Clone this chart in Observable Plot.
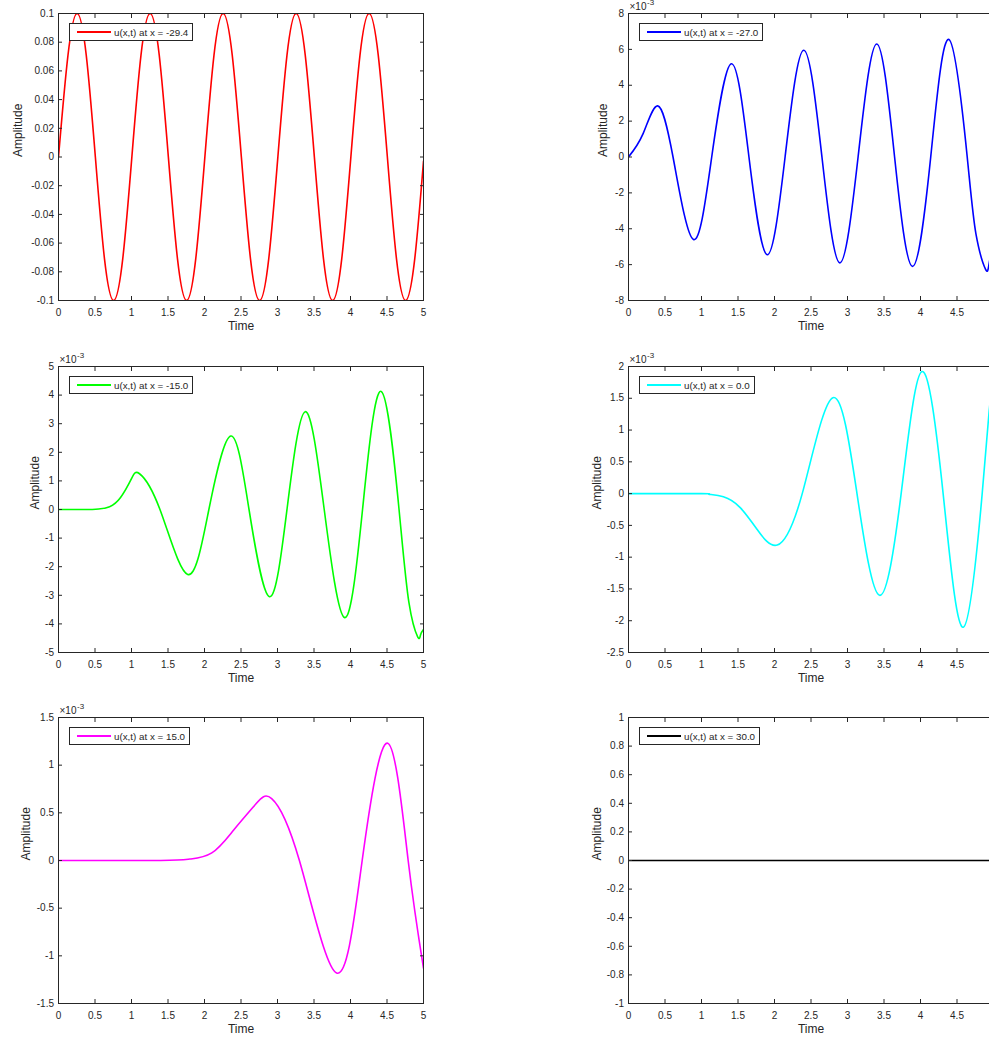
<!DOCTYPE html>
<html><head><meta charset="utf-8">
<script src="https://cdn.jsdelivr.net/npm/d3@7"></script>
<script src="https://cdn.jsdelivr.net/npm/@observablehq/plot@0.6"></script>
<style>
html,body{margin:0;padding:0;background:#fff;overflow:hidden;width:989px;height:1037px;}
#fig{position:relative;width:989px;height:1037px;overflow:hidden;font-family:"Liberation Sans",Arial,Helvetica,sans-serif;}
.panel{position:absolute;}
.legend{position:absolute;background:#fff;border:1px solid #262626;height:18px;display:flex;align-items:center;font-size:9.8px;color:#262626;padding:0 4px 0 7px;box-sizing:border-box;white-space:nowrap;}
.legend .swatch{display:inline-block;width:34px;height:0;border-top:2px solid;margin-right:3px;}
</style></head><body><div id="fig"></div>
<script>
// ---- data (amplitudes of panels 2-5 are in units of 1e-3, as on their axes) ----
const timeTicks = [0, 0.5, 1, 1.5, 2, 2.5, 3, 3.5, 4, 4.5, 5];

const redTime = [0, 0.13, 0.255, 0.38, 0.505, 0.63, 0.755, 0.88, 1.005, 1.13, 1.255, 1.38, 1.505, 1.63, 1.755, 1.88,
  2.005, 2.13, 2.255, 2.38, 2.505, 2.63, 2.755, 2.88, 3.005, 3.13, 3.255, 3.38, 3.505, 3.63, 3.755, 3.88,
  4.005, 4.13, 4.255, 4.38, 4.505, 4.63, 4.755, 4.88, 5.0];
const redAmp = [0, 0.071, 0.1, 0.071, 0, -0.071, -0.1, -0.071, 0, 0.071, 0.1, 0.071, 0, -0.071, -0.1, -0.071,
  0, 0.071, 0.1, 0.071, 0, -0.071, -0.1, -0.071, 0, 0.071, 0.1, 0.071, 0, -0.071, -0.1, -0.071,
  0, 0.071, 0.1, 0.071, 0, -0.071, -0.1, -0.071, -0.003];

const blueTime = [0, 0.2, 0.4, 0.61, 0.89, 1.14, 1.41, 1.65, 1.9, 2.145, 2.4, 2.65, 2.895, 3.145, 3.4, 3.645, 3.89, 4.14, 4.39, 4.64, 4.76, 4.89, 4.94, 5.0];
const blueAmp = [0, 1.3, 2.85, 0, -4.6, 0, 5.2, 0, -5.45, 0, 5.95, 0, -5.9, 0, 6.3, 0, -6.1, 0, 6.55, 0, -4.3, -6.25, -5.94, -4.8];

const greenTime = [0, 0.35, 0.55, 0.7, 0.85, 1.0, 1.11, 1.39, 1.77, 2.06, 2.36, 2.61, 2.89, 3.13, 3.38, 3.64, 3.92, 4.165, 4.42, 4.665, 4.8, 4.92, 4.96, 5.0];
const greenAmp = [0, 0, 0.02, 0.1, 0.42, 1.08, 1.25, 0, -2.27, 0, 2.57, 0, -3.05, 0, 3.42, 0, -3.78, 0, 4.13, 0, -3.25, -4.45, -4.38, -4.2];

const cyanTime = [0, 1.0, 1.1, 1.3, 1.53, 1.76, 2.037, 2.38, 2.8, 3.13, 3.44, 3.735, 4.02, 4.31, 4.59, 4.845, 4.94, 5.0];
const cyanAmp = [0, 0, -0.01, -0.05, -0.22, -0.56, -0.81, 0, 1.51, 0, -1.6, 0, 1.92, 0, -2.1, 0, 1.29, 1.9];

const magentaTime = [0, 1.4, 1.8, 2.1, 2.4, 2.7, 2.92, 3.3, 3.81, 4.16, 4.51, 4.79, 5.0];
const magentaAmp = [0, 0, 0.015, 0.08, 0.32, 0.59, 0.65, 0, -1.18, 0, 1.23, 0, -1.13];

const blackTime = [0, 5];
const blackAmp = [0, 0];

const legendLabels = ["u(x,t) at x = -29.4", "u(x,t) at x = -27.0", "u(x,t) at x = -15.0",
  "u(x,t) at x = 0.0", "u(x,t) at x = 15.0", "u(x,t) at x = 30.0"];
const lineColors = ["#ff0000", "#0000ff", "#00ff00", "#00ffff", "#ff00ff", "#000000"];

const yTicksRed = [-0.1, -0.08, -0.06, -0.04, -0.02, 0, 0.02, 0.04, 0.06, 0.08, 0.1];
const yTicksBlue = [-8, -6, -4, -2, 0, 2, 4, 6, 8];
const yTicksGreen = [-5, -4, -3, -2, -1, 0, 1, 2, 3, 4, 5];
const yTicksCyan = [-2.5, -2, -1.5, -1, -0.5, 0, 0.5, 1, 1.5, 2];
const yTicksMagenta = [-1.5, -1, -0.5, 0, 0.5, 1, 1.5];
const yTicksBlack = [-1, -0.8, -0.6, -0.4, -0.2, 0, 0.2, 0.4, 0.6, 0.8, 1];

// ---- layout ----
const panels = [
  {time: redTime, amp: redAmp, ticks: yTicksRed, exp: false, col: 0, row: 0, ylab: 40},
  {time: blueTime, amp: blueAmp, ticks: yTicksBlue, exp: true, col: 1, row: 0, ylab: 25},
  {time: greenTime, amp: greenAmp, ticks: yTicksGreen, exp: true, col: 0, row: 1, ylab: 23},
  {time: cyanTime, amp: cyanAmp, ticks: yTicksCyan, exp: true, col: 1, row: 1, ylab: 31},
  {time: magentaTime, amp: magentaAmp, ticks: yTicksMagenta, exp: true, col: 0, row: 2, ylab: 32},
  {time: blackTime, amp: blackAmp, ticks: yTicksBlack, exp: false, col: 1, row: 2, ylab: 31}
];
const colLeft = [58, 628];
const rowTop = [13, 366, 717];
const rowH = [287, 286, 286];
const innerW = 365;
const mL = 60, mR = 10, mT = 20, mB = 40;
const ink = "#262626";
const fmt = d => String(d);

const fig = document.getElementById("fig");
panels.forEach((p, i) => {
  const data = p.time.map((t, j) => ({t, u: p.amp[j]}));
  const h = rowH[p.row];
  const marks = [
    Plot.line(data, {x: "t", y: "u", stroke: lineColors[i], strokeWidth: 1.6, curve: "natural", clip: true}),
    Plot.frame({stroke: ink, strokeWidth: 1}),
    Plot.axisX(timeTicks, {anchor: "bottom", tickSize: -4, tickPadding: 12, tickFormat: fmt, label: null, fontSize: 10}),
    Plot.axisX(timeTicks, {anchor: "top", tickSize: -4, tickFormat: () => "", label: null}),
    Plot.axisY(p.ticks, {anchor: "left", tickSize: -4, tickPadding: 8.5, tickFormat: fmt, label: null, fontSize: 10}),
    Plot.axisY(p.ticks, {anchor: "right", tickSize: -4, tickFormat: () => "", label: null}),
    Plot.text(["Time"], {frameAnchor: "bottom", dy: 21, lineAnchor: "top", fontSize: 12, fill: ink}),
    Plot.text(["Amplitude"], {frameAnchor: "left", rotate: -90, dx: -p.ylab, fontSize: 12, fill: ink})
  ];
  if (p.exp) {
    marks.push(Plot.text(["\u00d710"], {frameAnchor: "top-left", textAnchor: "start", lineAnchor: "middle", dx: 1, dy: -7, fontSize: 10, fill: ink}));
    marks.push(Plot.text(["-3"], {frameAnchor: "top-left", textAnchor: "start", lineAnchor: "middle", dx: 18.5, dy: -11, fontSize: 8, fill: ink}));
  }
  const svg = Plot.plot({
    width: mL + innerW + mR, height: mT + h + mB,
    marginLeft: mL, marginRight: mR, marginTop: mT, marginBottom: mB,
    style: {color: ink, fontFamily: '"Liberation Sans", Arial, Helvetica, sans-serif', fontSize: "10px", background: "transparent", overflow: "visible"},
    x: {domain: [0, 5]},
    y: {domain: [p.ticks[0], p.ticks[p.ticks.length - 1]]},
    marks
  });
  svg.classList.add("panel");
  svg.style.left = (colLeft[p.col] - mL) + "px";
  svg.style.top = (rowTop[p.row] - mT) + "px";
  fig.appendChild(svg);

  const lg = document.createElement("div");
  lg.className = "legend";
  lg.style.left = (colLeft[p.col] + 11) + "px";
  lg.style.top = (rowTop[p.row] + 10) + "px";
  const sw = document.createElement("span");
  sw.className = "swatch";
  sw.style.borderTopColor = lineColors[i];
  const tx = document.createElement("span");
  tx.textContent = legendLabels[i];
  lg.appendChild(sw); lg.appendChild(tx);
  fig.appendChild(lg);
});
</script></body></html>
